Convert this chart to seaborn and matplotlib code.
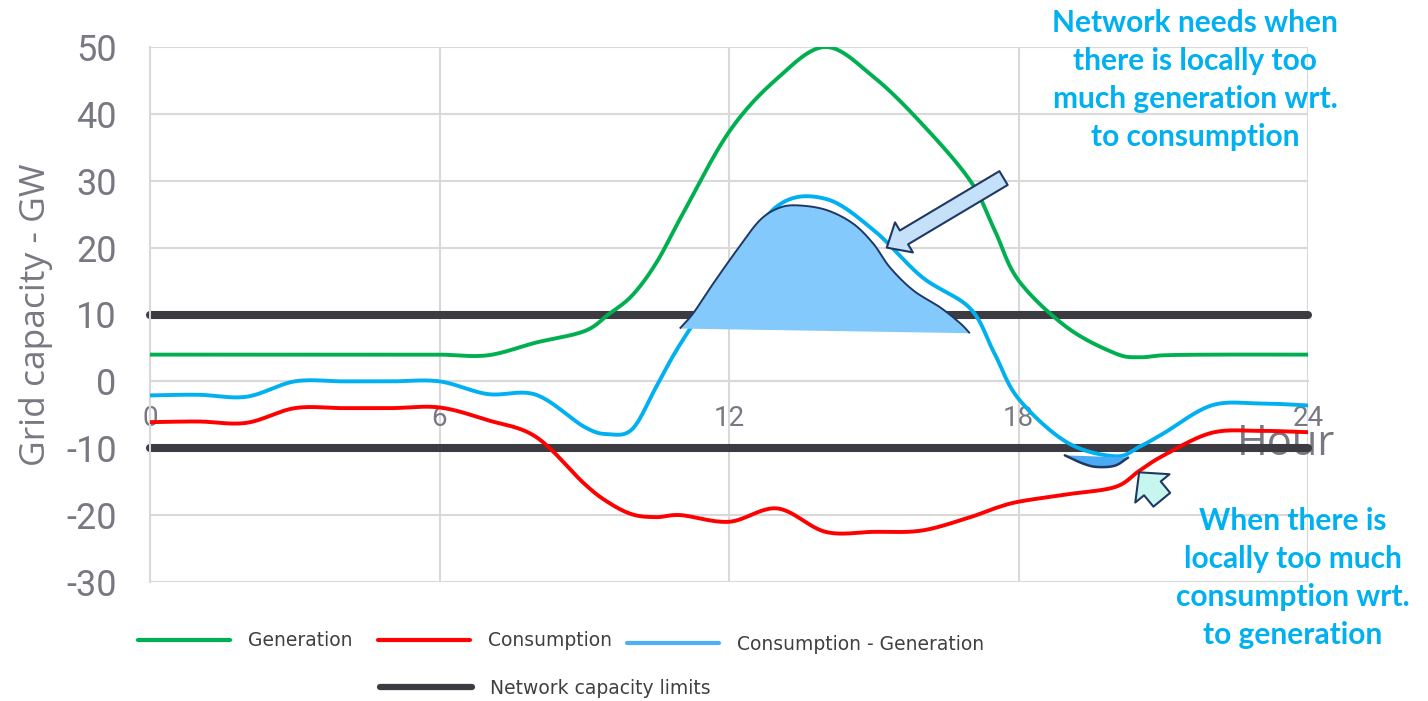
import numpy as np
import pandas as pd
import seaborn as sns
import matplotlib.pyplot as plt
from matplotlib.lines import Line2D
from matplotlib.patches import FancyArrowPatch, Polygon

# ---- hourly profile (GW) ----
hours = [0, 1, 2, 3, 4, 5, 6, 7, 8, 9, 9.5, 10, 10.5, 11, 12, 13, 14, 15, 16,
         17, 17.5, 18, 19, 20, 20.5, 21, 22, 23, 24]
generation = [4, 4, 4, 4, 4, 4, 4, 3.9, 5.8, 7.5, 10.0, 12.9, 17.8, 24.5, 37.3,
              45.3, 50.0, 45.5, 38.5, 30.0, 22.7, 15.1, 8.1, 4.2, 3.6, 3.9, 4, 4, 4]
consumption = [-6.1, -6.0, -6.2, -4.0, -4.0, -4.0, -3.9, -5.8, -8.3, -15.3, -18.1,
               -19.9, -20.3, -20.0, -21.0, -19.0, -22.5, -22.5, -22.3, -20.3, -19.0,
               -18.0, -16.9, -15.8, -13.4, -11.1, -7.7, -7.4, -7.6]
net_load = [-2.1, -2.0, -2.3, 0.0, 0, 0, 0, -1.9, -2.0, -6.8, -7.9, -7.1, -0.7, 5.7,
            16.5, 26.2, 27.3, 22.6, 15.6, 10.9, 4.2, -2.6, -9.1, -11.2, -9.8, -7.8,
            -3.6, -3.3, -3.6]
capacity_limits = [10, -10]

# highlighted surplus (above +10 GW) and deficit (below -10 GW) areas
surplus_hours = [10.98, 11.26, 11.67, 12.16, 12.64, 13.06, 13.47, 14.03, 14.57,
                 14.99, 15.34, 15.82, 16.37, 16.79, 16.99]
surplus_values = [7.9, 10.2, 14.6, 19.6, 24.1, 26.0, 26.3, 25.6, 23.6, 20.6, 17.0,
                  13.6, 11.1, 8.7, 7.2]
deficit_hours = [18.96, 19.34, 19.63, 20.0, 20.27]
deficit_values = [-11.06, -12.3, -12.8, -12.6, -11.4]

series_names = ["Generation", "Consumption", "Consumption - Generation"]
colors = {"Generation": "#00B050", "Consumption": "#FF0000",
          "Consumption - Generation": "#00B0F0"}
limit_color = "#3B3B41"
navy = "#1F3864"
text_gray = "#787882"
note_blue = "#00B0F0"

W, H = 1428, 701


def catmull_rom(xs, ys, samples=24):
    """Smooth curve through the given points (uniform Catmull-Rom)."""
    p = np.column_stack([xs, ys]).astype(float)
    p = np.vstack([2 * p[0] - p[1], p, 2 * p[-1] - p[-2]])
    t = np.linspace(0, 1, samples, endpoint=False)[:, None]
    segs = []
    for i in range(1, len(p) - 2):
        p0, p1, p2, p3 = p[i - 1], p[i], p[i + 1], p[i + 2]
        segs.append(0.5 * (2 * p1 + (p2 - p0) * t
                           + (2 * p0 - 5 * p1 + 4 * p2 - p3) * t ** 2
                           + (3 * p1 - p0 - 3 * p2 + p3) * t ** 3))
    segs.append(p[-2][None, :])
    out = np.vstack(segs)
    return out[:, 0], out[:, 1]


sns.set_theme(style="white")
plt.rcParams["font.family"] = ["Open Sans", "DejaVu Sans"]
plt.rcParams["axes.unicode_minus"] = False

fig = plt.figure(figsize=(W / 100, H / 100), dpi=100)
ax = fig.add_axes([150 / W, 1 - 582 / H, 1158 / W, 535 / H])

# network capacity limits
for lim in capacity_limits:
    sns.lineplot(x=[0, 24], y=[lim, lim], color=limit_color, linewidth=5.8,
                 solid_capstyle="round", clip_on=False, zorder=2, ax=ax)

# smoothed profiles
frames = []
for name, vals in zip(series_names, [generation, consumption, net_load]):
    sx, sy = catmull_rom(hours, vals)
    frames.append(pd.DataFrame({"Hour": sx, "GW": sy, "series": name}))
profiles = pd.concat(frames, ignore_index=True)
sns.lineplot(data=profiles, x="Hour", y="GW", hue="series", hue_order=series_names,
             palette=colors, linewidth=2.8, estimator=None, sort=False,
             legend=False, zorder=3, ax=ax)

# surplus area
sx, sy = catmull_rom(surplus_hours, surplus_values)
ax.add_patch(Polygon(np.column_stack([sx, sy]), closed=True, facecolor="#84C9FB",
                     edgecolor="none", zorder=4))
ax.plot(sx, sy, color=navy, lw=1.4, zorder=5, solid_capstyle="butt")

# deficit area
dx, dy = catmull_rom(deficit_hours, deficit_values)
ax.add_patch(Polygon(np.column_stack([dx, dy]), closed=True, facecolor="#4AAAF4",
                     edgecolor="none", zorder=4))
ax.plot(dx, dy, color=navy, lw=1.8, zorder=5)

# arrows pointing at the two areas
ax.add_patch(FancyArrowPatch((17.69, 30.4), (15.27, 20.0),
                             arrowstyle="simple,head_length=0.72,head_width=1.26,tail_width=0.58",
                             mutation_scale=20, shrinkA=0, shrinkB=0,
                             facecolor="#C5E1F9", edgecolor=navy, lw=1.5, zorder=6))
ax.add_patch(FancyArrowPatch((20.97, -17.7), (20.5, -13.6),
                             arrowstyle="simple,head_length=0.75,head_width=1.6,tail_width=0.78",
                             mutation_scale=20, shrinkA=0, shrinkB=0,
                             facecolor="#C6F6EE", edgecolor=navy, lw=1.5, zorder=6))

# axes styling
ax.set_xlim(0, 24)
ax.set_ylim(-30, 50)
ax.set_xticks([0, 6, 12, 18, 24])
ax.set_yticks(range(-30, 51, 10))
ax.grid(True, color="#D9D9D9", linewidth=1.5)
ax.set_axisbelow(True)
for side in ["top", "right"]:
    ax.spines[side].set_visible(False)
ax.spines["left"].set_color("#D9D9D9")
ax.spines["left"].set_linewidth(1.5)
ax.spines["bottom"].set_position(("data", 0))
ax.spines["bottom"].set_color("#D9D9D9")
ax.spines["bottom"].set_linewidth(1.5)
ax.tick_params(axis="x", length=0, pad=17, labelsize=20, labelcolor=text_gray)
ax.tick_params(axis="y", length=0, pad=24, labelsize=26, labelcolor=text_gray)
for lab in ax.get_xticklabels() + ax.get_yticklabels():
    lab.set_family(["Roboto", "DejaVu Sans"])

ax.set_xlabel("Hour", fontsize=30, color=text_gray)
ax.xaxis.set_label_coords((1286 - 150) / 1158, (582 - 455) / 535)
ax.xaxis.label.set_va("baseline")
ax.xaxis.label.set_zorder(10)
ax.set_ylabel("Grid capacity - GW", fontsize=25.5, color=text_gray)
ax.yaxis.set_label_coords((36 - 150) / 1158, 0.5)
ax.yaxis.label.set_va("center")

# explanatory notes
note_style = dict(ha="center", va="center", multialignment="center", fontsize=21.5,
                  fontweight="bold", color=note_blue, family=["Lato", "DejaVu Sans"],
                  linespacing=1.43)
fig.text(1195 / W, 1 - 80 / H,
         "Network needs when\nthere is locally too\nmuch generation wrt.\nto consumption",
         **note_style)
fig.text(1293 / W, 1 - 578 / H,
         "When there is\nlocally too much\nconsumption wrt.\nto generation",
         **note_style)

# legend, laid out entry by entry
legend_rows = [("Generation", colors["Generation"], 3.0, 138, 641),
               ("Consumption", colors["Consumption"], 3.0, 378, 641),
               ("Consumption - Generation", "#4DB0F5", 3.0, 627, 644),
               ("Network capacity limits", limit_color, 4.5, 380, 688)]
for label, col, lw, xp, yp in legend_rows:
    fig.legend([Line2D([], [], color=col, lw=lw)], [label], loc="center left",
               bbox_to_anchor=(xp / W, 1 - yp / H), frameon=False, borderpad=0,
               borderaxespad=0, handlelength=4.9, handletextpad=0.96,
               prop={"family": ["DejaVu Sans"], "size": 13.5}, labelcolor="#404040")

fig.savefig("out.png", dpi=100)
